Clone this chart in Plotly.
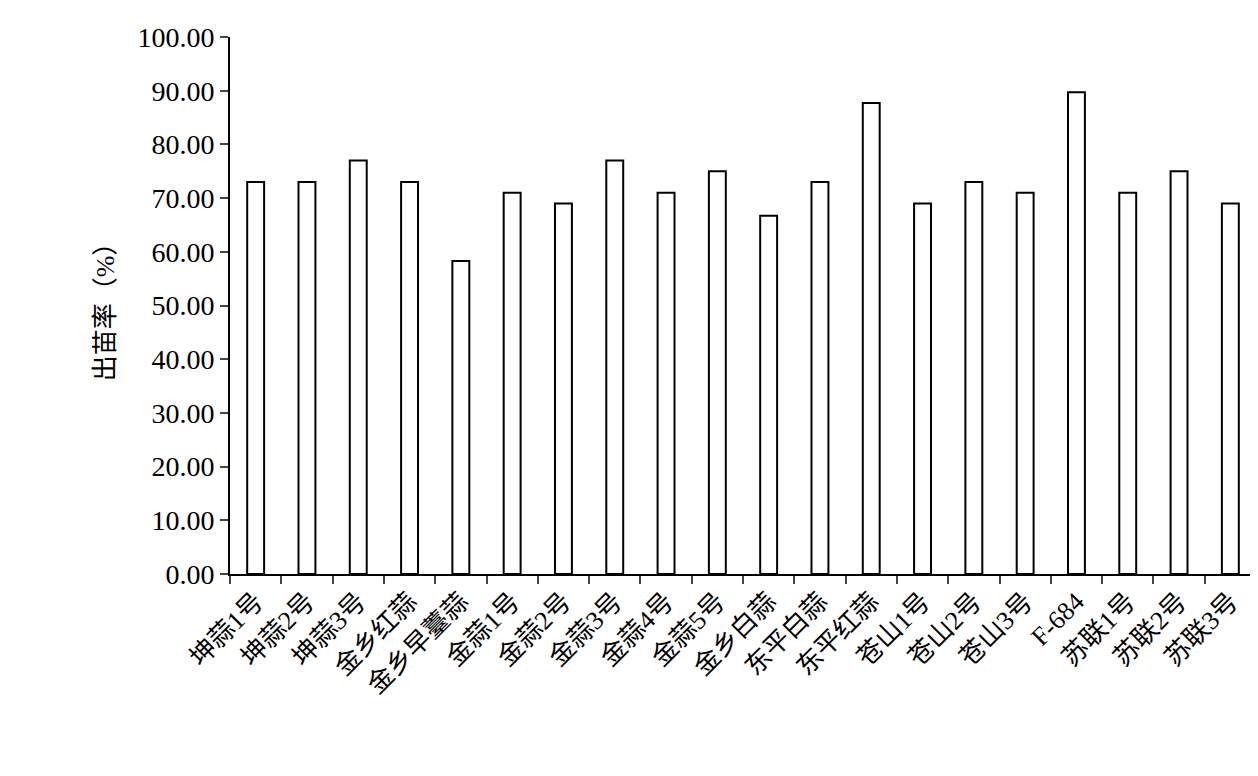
import plotly.graph_objects as go

varieties = ["坤蒜1号", "坤蒜2号", "坤蒜3号", "金乡红蒜", "金乡早薹蒜", "金蒜1号", "金蒜2号",
             "金蒜3号", "金蒜4号", "金蒜5号", "金乡白蒜", "东平白蒜", "东平红蒜", "苍山1号",
             "苍山2号", "苍山3号", "F-684", "苏联1号", "苏联2号", "苏联3号"]
emergence = [73.0, 73.0, 77.0, 73.0, 58.3, 71.0, 69.0, 77.0, 71.0, 75.0,
             66.7, 73.0, 87.7, 69.0, 73.0, 71.0, 89.7, 71.0, 75.0, 69.0]
y_ticks = [0, 10, 20, 30, 40, 50, 60, 70, 80, 90, 100]

font = "Liberation Serif, Noto Sans CJK SC"

fig = go.Figure(go.Bar(
    x=varieties, y=emergence, width=0.33,
    marker=dict(color="white", line=dict(color="black", width=2)),
))
fig.update_layout(
    width=1258, height=776, plot_bgcolor="white", paper_bgcolor="white",
    margin=dict(l=222, r=10, t=29, b=210), showlegend=False,
    font=dict(family=font, size=24, color="black"),
)
fig.update_xaxes(
    showline=True, linecolor="black", linewidth=2, tickson="boundaries",
    ticks="outside", ticklen=8, tickwidth=2, tickangle=-45,
    tickfont=dict(size=26),
)
fig.update_yaxes(
    range=[0, 100], tickvals=y_ticks, ticktext=[f"{v:.2f}" for v in y_ticks],
    showline=True, linecolor="black", linewidth=2, ticks="outside",
    ticklen=8, tickwidth=2, showgrid=False, zeroline=False,
    title=dict(text="出苗率（%）", font=dict(size=26)), tickfont=dict(size=28),
)
fig.write_html("out.html")
